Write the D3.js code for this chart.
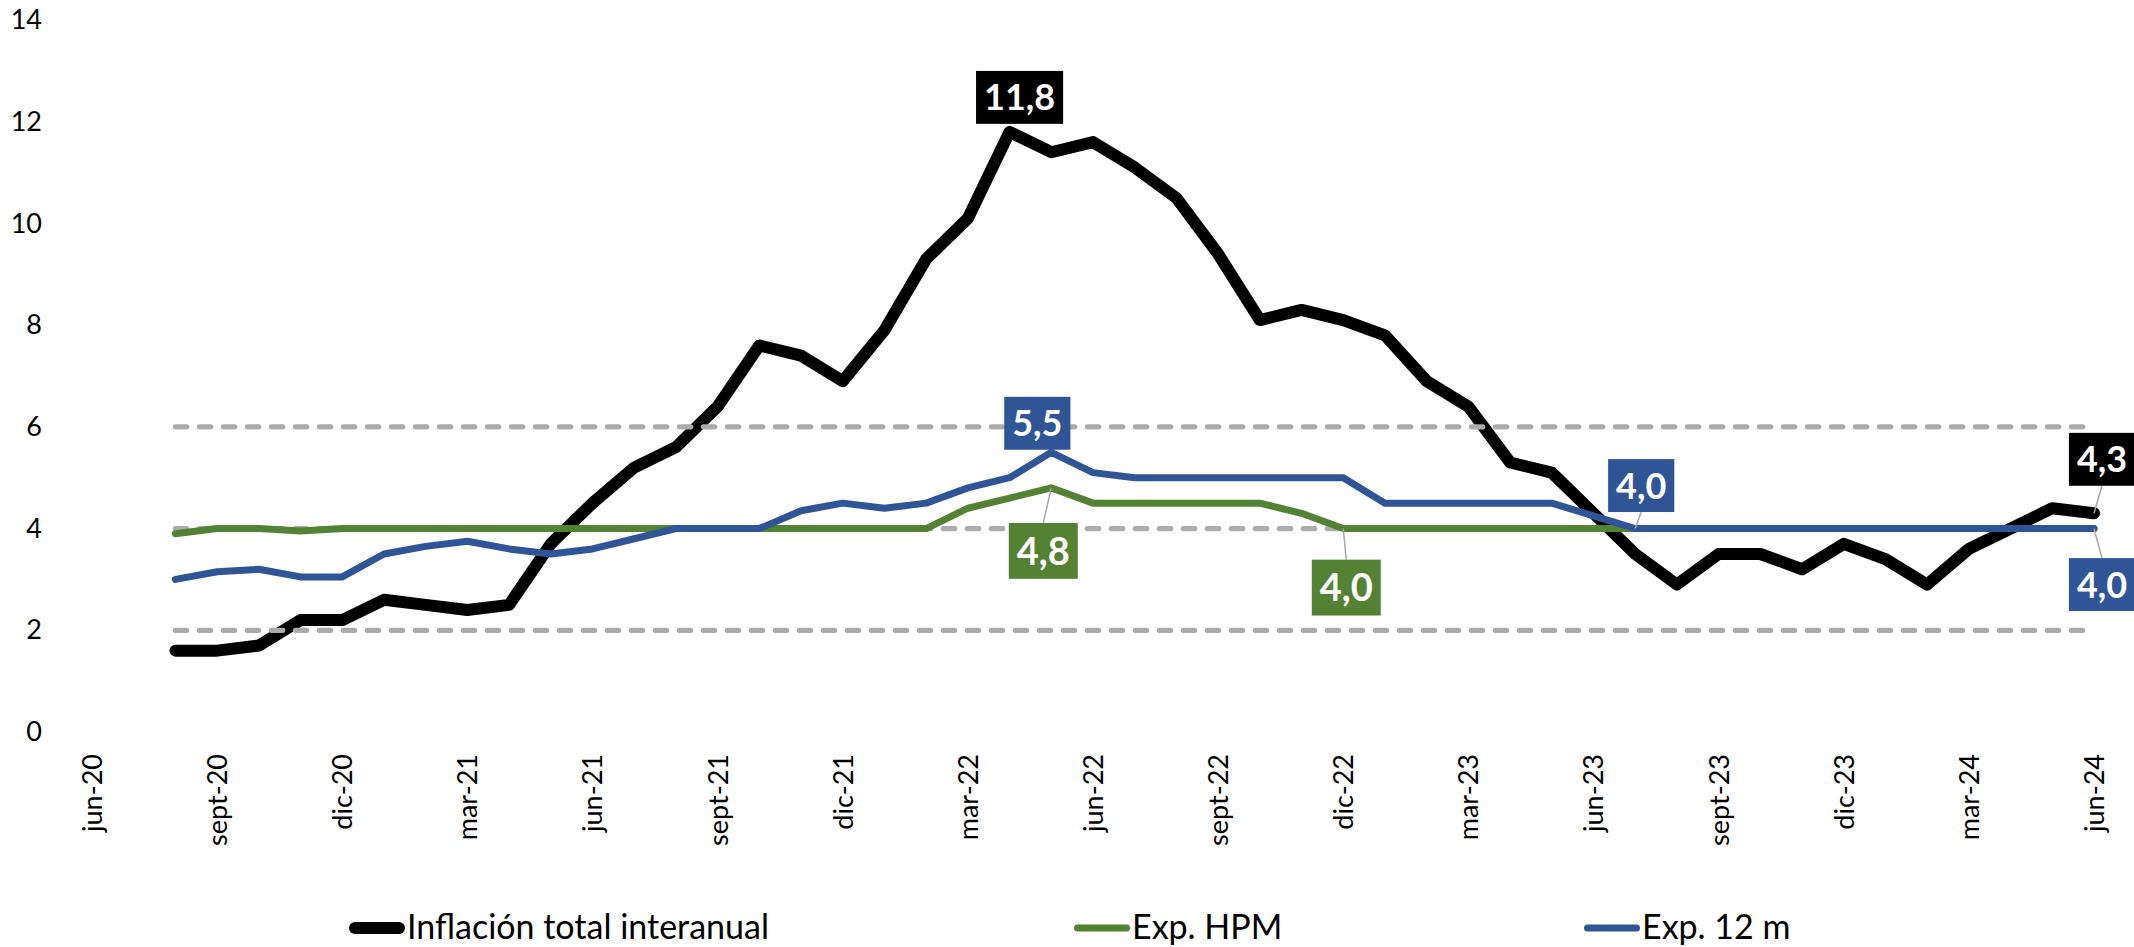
<!DOCTYPE html>
<html>
<head>
<meta charset="utf-8">
<script src="https://cdn.jsdelivr.net/npm/d3@7"></script>
<style>
  html, body { margin: 0; padding: 0; background: #ffffff; }
  svg { display: block; font-family: Lato, "Open Sans", "Noto Sans", sans-serif; }
</style>
</head>
<body>
<svg id="chart" width="2134" height="947"></svg>
<script>
// Monthly categories of the horizontal axis (jun-20 .. jun-24)
const months = [
  "jun-20","jul-20","ago-20","sept-20","oct-20","nov-20","dic-20",
  "ene-21","feb-21","mar-21","abr-21","may-21","jun-21","jul-21","ago-21","sept-21","oct-21","nov-21","dic-21",
  "ene-22","feb-22","mar-22","abr-22","may-22","jun-22","jul-22","ago-22","sept-22","oct-22","nov-22","dic-22",
  "ene-23","feb-23","mar-23","abr-23","may-23","jun-23","jul-23","ago-23","sept-23","oct-23","nov-23","dic-23",
  "ene-24","feb-24","mar-24","abr-24","may-24","jun-24"
];
// The series start in ago-20
const seriesStart = "ago-20";

// Inflación total interanual (%)
const inflation = [
  1.6, 1.6, 1.7, 2.2, 2.2,
  2.6, 2.5, 2.4, 2.5, 3.7, 4.5, 5.2, 5.6, 6.4, 7.6, 7.4, 6.9,
  7.9, 9.3, 10.1, 11.8, 11.4, 11.6, 11.1, 10.5, 9.4, 8.1, 8.3, 8.1,
  7.8, 6.9, 6.4, 5.3, 5.1, 4.3, 3.5, 2.9, 3.5, 3.5, 3.2, 3.7,
  3.4, 2.9, 3.6, 4.0, 4.4, 4.3
];
// Expectativa al horizonte de política monetaria (%)
const expHPM = [
  3.9, 4.0, 4.0, 3.95, 4.0,
  4.0, 4.0, 4.0, 4.0, 4.0, 4.0, 4.0, 4.0, 4.0, 4.0, 4.0, 4.0,
  4.0, 4.0, 4.4, 4.6, 4.8, 4.5, 4.5, 4.5, 4.5, 4.5, 4.3, 4.0,
  4.0, 4.0, 4.0, 4.0, 4.0, 4.0, 4.0, 4.0, 4.0, 4.0, 4.0, 4.0,
  4.0, 4.0, 4.0, 4.0, 4.0, 4.0
];
// Expectativa a 12 meses (%)
const exp12 = [
  3.0, 3.15, 3.2, 3.05, 3.05,
  3.5, 3.65, 3.75, 3.6, 3.5, 3.6, 3.8, 4.0, 4.0, 4.0, 4.35, 4.5,
  4.4, 4.5, 4.8, 5.0, 5.5, 5.1, 5.0, 5.0, 5.0, 5.0, 5.0, 5.0,
  4.5, 4.5, 4.5, 4.5, 4.5, 4.25, 4.0, 4.0, 4.0, 4.0, 4.0, 4.0,
  4.0, 4.0, 4.0, 4.0, 4.0, 4.0
];

const seriesNames = ["Inflación total interanual", "Exp. HPM", "Exp. 12 m"];
const tickMonths = [
  "jun-20","sept-20","dic-20","mar-21","jun-21","sept-21","dic-21","mar-22",
  "jun-22","sept-22","dic-22","mar-23","jun-23","sept-23","dic-23","mar-24","jun-24"
];
const yTicks = [0, 2, 4, 6, 8, 10, 12, 14];
// Target (4%) and tolerance band (2% - 6%)
const bandLevels = [2, 4, 6];

// ---- styles & layout ----
const seriesStyles = [
  { color: "#000000", width: 12 },
  { color: "#548235", width: 7 },
  { color: "#2F5597", width: 7 }
];
const bandStyle = { color: "#ABABAB", width: 5.3, dash: "11.3 12.7" };
const labelSpecs = [
  { series: 0, month: "abr-22", dx: 10,  dy: -34.5, size: 36, leader: false },
  { series: 2, month: "may-22", dx: -14, dy: -29,   size: 36, leader: false },
  { series: 1, month: "may-22", dx: -8,  dy: 63,    size: 38, leader: true },
  { series: 1, month: "dic-22", dx: 3,   dy: 59,    size: 38, leader: true },
  { series: 2, month: "jul-23", dx: 6,   dy: -43,   size: 36, leader: true },
  { series: 0, month: "jun-24", dx: 8,   dy: -54,   size: 36, leader: true },
  { series: 2, month: "jun-24", dx: 8,   dy: 56,    size: 36, leader: true }
];
const legendX = [349, 1074, 1584];

const svg = d3.select("#chart");
svg.append("rect").attr("width", 2134).attr("height", 947).attr("fill", "#ffffff");

const x = d3.scalePoint().domain(months).range([92, 2094]);
const y = d3.scaleLinear().domain([0, 14]).range([732, 20]);

const dataMonths = months.slice(months.indexOf(seriesStart));
const seriesValues = [inflation, expHPM, exp12];
const series = seriesValues.map(vals => vals.map((v, i) => ({ m: dataMonths[i], v })));

const line = d3.line().x(d => x(d.m)).y(d => y(d.v));

// ---- axes ----
const yAxis = svg.append("g")
  .attr("transform", "translate(50,0)")
  .call(d3.axisLeft(y).tickValues(yTicks).tickSize(0).tickPadding(8).tickFormat(d3.format("d")));
yAxis.select(".domain").remove();
yAxis.selectAll("text")
  .attr("font-family", "Lato, sans-serif")
  .attr("font-size", 27)
  .attr("fill", "#000");

const xAxis = svg.append("g")
  .attr("transform", "translate(0,754)")
  .call(d3.axisBottom(x).tickValues(tickMonths).tickSize(0));
xAxis.select(".domain").remove();
xAxis.selectAll("text")
  .attr("x", 0).attr("y", 0).attr("dy", "0.35em")
  .attr("transform", "rotate(-90)")
  .style("text-anchor", "end")
  .attr("font-family", "Lato, sans-serif")
  .attr("font-size", 27)
  .attr("fill", "#000");

// ---- lines ----
const plot = svg.append("g");

function drawSeries(k) {
  plot.append("path")
    .datum(series[k])
    .attr("d", line)
    .attr("fill", "none")
    .attr("stroke", seriesStyles[k].color)
    .attr("stroke-width", seriesStyles[k].width)
    .attr("stroke-linejoin", "round")
    .attr("stroke-linecap", "round");
}

drawSeries(0);

bandLevels.forEach(level => {
  plot.append("path")
    .datum(dataMonths.map(m => ({ m, v: level })))
    .attr("d", line)
    .attr("fill", "none")
    .attr("stroke", bandStyle.color)
    .attr("stroke-width", bandStyle.width)
    .attr("stroke-dasharray", bandStyle.dash)
    .attr("stroke-linecap", "round");
});

drawSeries(1);
drawSeries(2);

// ---- value labels ----
const fmt = d3.formatLocale({ decimal: ",", thousands: ".", grouping: [3], currency: ["", ""] }).format(".1f");
const labels = svg.append("g");

labelSpecs.forEach(spec => {
  const idx = dataMonths.indexOf(spec.month);
  const value = seriesValues[spec.series][idx];
  const px = x(spec.month), py = y(value);
  const cx = px + spec.dx, cy = py + spec.dy;
  const g = labels.append("g");
  const leader = g.append("line");
  const rect = g.append("rect");
  const text = g.append("text")
    .attr("x", cx).attr("y", cy).attr("dy", "0.36em")
    .attr("text-anchor", "middle")
    .attr("font-family", "Lato, sans-serif")
    .attr("font-weight", 700)
    .attr("font-size", spec.size)
    .attr("fill", "#ffffff")
    .text(fmt(value));
  const tw = text.node().getComputedTextLength();
  const bw = tw + 16, bh = spec.size * 1.47;
  rect.attr("x", cx - bw / 2).attr("y", cy - bh / 2)
    .attr("width", bw).attr("height", bh)
    .attr("fill", seriesStyles[spec.series].color);
  if (spec.leader) {
    const ey = spec.dy < 0 ? cy + bh / 2 : cy - bh / 2;
    leader.attr("x1", px).attr("y1", py).attr("x2", cx).attr("y2", ey)
      .attr("stroke", "#A6A6A6").attr("stroke-width", 1.5);
  }
});

// ---- legend ----
const legend = svg.append("g");
seriesNames.forEach((name, k) => {
  const lx = legendX[k];
  const w = seriesStyles[k].width;
  legend.append("line")
    .attr("x1", lx + w / 2).attr("x2", lx + 56 - w / 2)
    .attr("y1", 928).attr("y2", 928)
    .attr("stroke", seriesStyles[k].color)
    .attr("stroke-width", w)
    .attr("stroke-linecap", "round");
  legend.append("text")
    .attr("x", lx + 58).attr("y", 939)
    .attr("font-family", "Lato, sans-serif")
    .attr("font-size", 34)
    .attr("fill", "#000")
    .text(name);
});
</script>
</body>
</html>
